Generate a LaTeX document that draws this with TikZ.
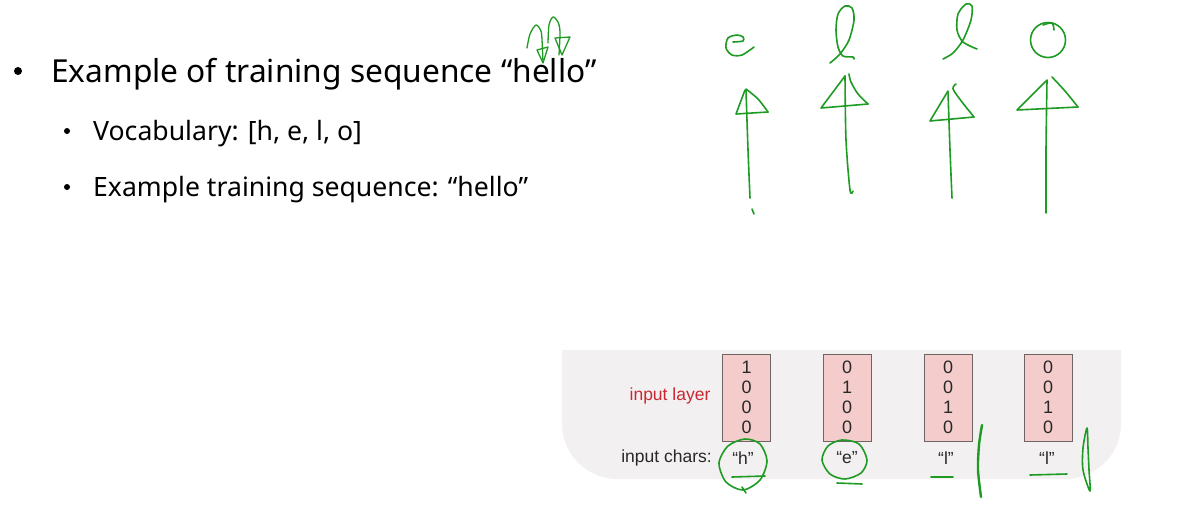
\documentclass[tikz,border=0pt]{standalone}
\usepackage{fontspec}
\setmainfont{Noto Sans}
\newfontfamily\arialfont{Liberation Sans}
\definecolor{ink}{RGB}{30,155,35}
\definecolor{panelbg}{RGB}{243,240,241}
\definecolor{cellfill}{RGB}{244,204,204}
\definecolor{cellline}{RGB}{110,100,100}
\definecolor{layerred}{RGB}{200,40,50}
\definecolor{dark}{RGB}{40,40,40}
\tikzset{
  pen/.style={draw=ink, line width=1.6pt, line cap=round, line join=round},
  bigtext/.style={anchor=base west, inner sep=0pt, font=\fontsize{31.7}{38}\selectfont, text=black},
  subtext/.style={anchor=base west, inner sep=0pt, font=\fontsize{26.6}{32}\selectfont, text=black},
  dot/.style={circle, fill=black, inner sep=0pt},
  cell/.style={draw=cellline, line width=0.9pt, fill=cellfill, minimum width=48pt,
    minimum height=87pt, inner sep=0pt, align=center, text=dark,
    font=\arialfont\fontsize{18}{20}\selectfont},
  plain/.style={inner sep=0pt, text=dark, font=\arialfont\fontsize{17.5}{20}\selectfont},
}
\begin{document}
\begin{tikzpicture}[x=1pt, y=-1pt]
\useasboundingbox[fill=white] (0,0) rectangle (1186,512);

% bullet list
\node[dot, minimum size=8pt] (b1) at (18,71) {};
\node[bigtext] (t1) at (51,82) {Example of training sequence “hello”};
\node[dot, minimum size=6pt] (b2) at (67,131) {};
\node[subtext] (t2) at (93,140) {Vocabulary: [h, e, l, o]};
\node[dot, minimum size=6pt] (b3) at (67,187) {};
\node[subtext] (t3) at (93,196) {Example training sequence: “hello”};

% grey panel with rounded lower corners
\fill[panelbg] (562,350) -- (1121,350) -- (1121,424)
  .. controls (1121,454) and (1096,479) .. (1066,479) -- (617,479)
  .. controls (587,479) and (562,454) .. (562,424) -- cycle;

% one-hot input vectors
\node[cell] (v1) at (746.5,397.5) {1\\0\\0\\0};
\node[cell] (v2) at (847,397.5) {0\\1\\0\\0};
\node[cell] (v3) at (948,397.5) {0\\0\\1\\0};
\node[cell] (v4) at (1048,397.5) {0\\0\\1\\0};
\node[plain, text=layerred] (lay) at (670,396) {input layer};
\node[plain, anchor=east] (chars) at (712,458) {input chars:};
\node[plain] (c1) at (743,458) {“h”};
\node[plain] (c2) at (847,458) {“e”};
\node[plain] (c3) at (946,458) {“l”};
\node[plain] (c4) at (1047,458) {“l”};

% handwritten marks over the title
\draw[pen, line width=1.3pt] plot[smooth] coordinates {(527,48) (530,34) (536,25) (541,31) (542,40) (543,62)};
\draw[pen, line width=1.3pt] (537,50) -- (548,47) -- (543,63) -- cycle;
\draw[pen, line width=1.3pt] plot[smooth] coordinates {(548,43) (549,25) (553,17) (558,22) (560,32) (559,55)};
\draw[pen, line width=1.3pt] (555,38) -- (570,37) -- (562,55) -- cycle;

% handwritten target letters
\draw[pen] plot[smooth] coordinates {(733,42) (743,41) (743,37) (737,35) (728,38) (726,48) (732,55) (742,55) (754,47)};
\draw[pen] plot[smooth] coordinates {(830,63) (840,54) (849,40) (854,20) (852,8) (845,6) (838,14) (836,30) (838,47) (843,56) (853,57) (854,59)};
\draw[pen] plot[smooth] coordinates {(943,59) (953,53) (963,40) (971,20) (972,6) (966,4) (958,14) (957,30) (962,41) (970,46) (977,49)};
\draw[pen] (1048,40) circle[radius=17.5];
\draw[pen] plot[smooth] coordinates {(1043,25) (1052,23) (1054,30)};

% handwritten arrows
\draw[pen] plot[smooth] coordinates {(750,198) (748,150) (746,90)};
\draw[pen] (745,90) -- (736,114) -- (768,112);
\draw[pen] plot[smooth] coordinates {(746,89) (758,99) (768,112)};
\draw[pen] (752,209) -- (754,214);

\draw[pen] plot[smooth] coordinates {(853,191) (850,190) (846,140) (845,76)};
\draw[pen] (845,76) -- (821,108) -- (868,104);
\draw[pen] plot[smooth] coordinates {(849,74) (851,82) (858,94) (868,104)};

\draw[pen] plot[smooth] coordinates {(952,198) (950,150) (948,92)};
\draw[pen] (948,91) -- (930,121) -- (974,117);
\draw[pen] plot[smooth] coordinates {(956,84) (953,89) (962,102) (974,117)};

\draw[pen] plot[smooth] coordinates {(1046,213) (1046,150) (1047,80)};
\draw[pen] (1046,81) -- (1017,110) -- (1078,107);
\draw[pen] plot[smooth] coordinates {(1052,77) (1065,91) (1078,107)};

% marks on the input characters
\draw[pen] plot[smooth cycle] coordinates {(745,439) (728,446) (719,463) (726,482) (743,490) (760,480) (767,461) (760,444)};
\draw[pen] (732,477) -- (765,476);
\draw[pen] (742,487) -- (746,493);
\draw[pen] plot[smooth cycle] coordinates {(842,440) (828,446) (822,460) (830,474) (845,479) (861,473) (867,460) (859,444)};
\draw[pen] (837,483) -- (862,484);
\draw[pen] (931,477) -- (953,477);
\draw[pen] (1030,475) -- (1067,474);
\draw[pen, line width=2.4pt] plot[smooth] coordinates {(982,425) (979,445) (978,470) (981,497)};
\draw[pen] plot[smooth cycle] coordinates {(1087,428) (1083,448) (1083,470) (1090,491) (1089,470) (1088,448)};
\end{tikzpicture}
\end{document}
